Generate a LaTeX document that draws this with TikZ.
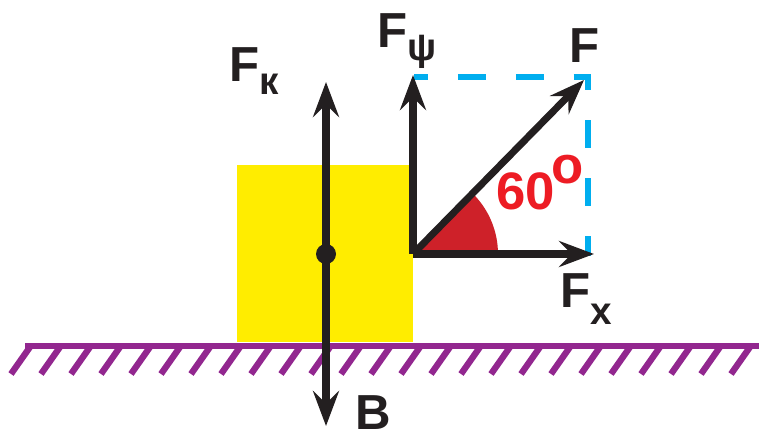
\documentclass[tikz,border=0pt]{standalone}
\usepackage{fontspec}
\setmainfont{Liberation Sans}
\usetikzlibrary{arrows.meta}
\definecolor{ink}{RGB}{35,31,32}
\definecolor{boxyellow}{RGB}{255,237,0}
\definecolor{groundpurple}{RGB}{146,39,143}
\definecolor{projblue}{RGB}{0,174,239}
\definecolor{anglered}{RGB}{237,28,36}
\definecolor{sectorred}{RGB}{206,33,41}
\newcommand\Fsub[2][7pt]{F\raisebox{-#1}{\fontsize{22}{22}\selectfont #2}}

\begin{document}
\begin{tikzpicture}[font=\fontsize{28}{28}\selectfont\bfseries,
  >={Stealth[length=7mm, width=5.2mm, inset=2.5mm]},
  vec/.style={->, line width=4pt, draw=ink},
  ground/.style={line width=3.8pt, draw=groundpurple},
  hatch/.style={line width=3.6pt, draw=groundpurple},
  proj/.style={line width=3.6pt, draw=projblue, dash pattern=on 15.9pt off 17pt, dash phase=7.9pt},
  lbl/.style={anchor=base west, inner sep=0pt, text=ink}]
  \useasboundingbox (0,0) rectangle (15.18,8.66);

  \node[fill=boxyellow, anchor=south west, inner sep=0pt,
    minimum width=3.52cm, minimum height=3.54cm] (box) at (4.74,1.82) {};

  \coordinate (gl) at (0.5,1.74);
  \coordinate (gr) at (15.3,1.74);
  \draw[ground] (gl) -- (gr);
  \foreach \i in {1,...,25}
    \draw[hatch] ({0.6*\i},1.72) -- ++(-0.38,-0.54);

  \coordinate (O) at (8.26,3.58);
  \coordinate (C) at (6.52,3.58);
  \coordinate (Fk) at (6.52,7.02);
  \coordinate (B) at (6.52,0.14);
  \coordinate (Fy) at (8.26,7.16);
  \coordinate (F) at (11.68,7.06);
  \coordinate (Fx) at (11.88,3.58);
  \coordinate (py) at (8.28,7.12);
  \coordinate (pc) at (11.76,7.12);
  \coordinate (px) at (11.76,3.54);

  \draw[proj] (py) -- (pc) -- (px);
  \fill[sectorred] (O) -- ++(1.7,0) arc[start angle=0, end angle=45, radius=1.7] -- cycle;

  \draw[vec] (C) -- (Fk);
  \draw[vec] (C) -- (B);
  \draw[vec] (O) -- (Fy);
  \draw[vec] (O) -- (F);
  \draw[vec] (O) -- (Fx);
  \node[circle, fill=ink, minimum size=4mm, inner sep=0pt] (dot) at (C) {};

  \node[lbl] (lFk) at (4.58,7.02) {\Fsub{к}};
  \node[lbl] (lFy) at (7.54,7.70) {\Fsub{ψ}};
  \node[lbl] (lF) at (11.38,7.40) {F};
  \node[lbl] (lFx) at (11.20,2.50) {\Fsub[9.5pt]{x}};
  \node[lbl] (lB) at (7.10,0.06) {B};
  \node[lbl, text=anglered, font=\fontsize{30}{30}\selectfont\bfseries] (lang)
    at (9.92,4.46) {60\kern-2pt\raisebox{15pt}{o}};
\end{tikzpicture}
\end{document}
